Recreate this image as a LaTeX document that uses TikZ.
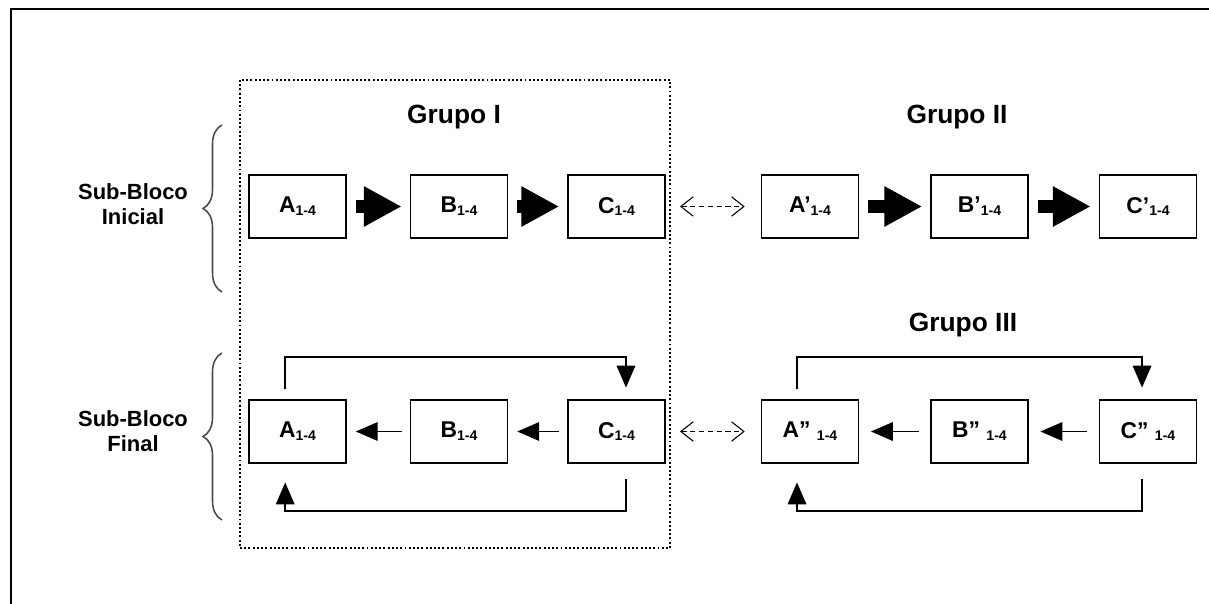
\documentclass[tikz,border=0pt]{standalone}
\usepackage{fontspec}
\setmainfont{Liberation Sans}
\usetikzlibrary{
    arrows.meta,
    decorations.pathreplacing % for the braces
}

\newcommand{\blab}[2]{#1{\fontsize{8}{8}\selectfont\raisebox{-1.6pt}{#2}}}

\begin{document}
\begin{tikzpicture} [
    x=0.02cm, y=-0.02cm,
    box/.style = {draw, line width=1.1pt, minimum width=1.94cm, minimum height=1.26cm,
        inner sep=0pt, font=\fontsize{13}{13}\selectfont\bfseries},
    bigarrow/.style = {line width=7.4pt, -{Triangle[length=21.5pt,width=21.5pt]},
        shorten <=5pt, shorten >=4.5pt},
    thinarrow/.style = {line width=1.1pt, -{Triangle[length=12.5pt,width=10.5pt]}},
    linkarrow/.style = {line width=0.6pt, dash pattern=on 3pt off 2pt,
        {Straight Barb[length=7pt,width=11pt]}-{Straight Barb[length=7pt,width=11pt]},
        shorten <=8pt, shorten >=9pt},
    grouplabel/.style = {font=\fontsize{15}{15}\selectfont\bfseries},
    sidelabel/.style = {align=center, font=\fontsize{12.5}{14}\selectfont\bfseries},
    curly/.style = {gray!60!black, line width=0.9pt,
        decorate, decoration={brace, amplitude=10.8pt}}
]
    \useasboundingbox (0,0) rectangle (1209,604);

    % frame
    \draw[line width=1.1pt] (11,604) -- (11,9) -- (1209,9);

    % group I
    \draw[line width=1.1pt, dash pattern=on 1.1pt off 1.3pt] (240,80) rectangle (670,548);

    \node[grouplabel] (g1) at (454,117) {Grupo I};
    \node[grouplabel] (g2) at (957,117) {Grupo II};
    \node[grouplabel] (g3) at (963,325) {Grupo III};

    \node[sidelabel] (si) at (133,204) {Sub-Bloco\\Inicial};
    \node[sidelabel] (sf) at (133,431) {Sub-Bloco\\Final};
    \draw[curly] (222,292) -- (222,125);
    \draw[curly] (222,520) -- (222,353);

    % sub-bloco inicial
    \node[box] (a)  at (297.5,206.5) {\blab{A}{1-4}};
    \node[box] (b)  at (459,206.5)   {\blab{B}{1-4}};
    \node[box] (c)  at (616.5,206.5) {\blab{C}{1-4}};
    \node[box] (ap) at (810,206.5)   {\blab{A’}{1-4}};
    \node[box] (bp) at (979.5,206.5) {\blab{B’}{1-4}};
    \node[box] (cp) at (1148,206.5)  {\blab{C’}{1-4}};

    \draw[bigarrow] (a) -- (b);
    \draw[bigarrow] (b) -- (c);
    \draw[bigarrow] (ap) -- (bp);
    \draw[bigarrow] (bp) -- (cp);
    \draw[linkarrow] (c) -- (ap);

    % sub-bloco final
    \node[box] (af)  at (297.5,431.5) {\blab{A}{1-4}};
    \node[box] (bf)  at (459,431.5)   {\blab{B}{1-4}};
    \node[box] (cf)  at (616.5,431.5) {\blab{C}{1-4}};
    \node[box] (app) at (810,431.5)   {\blab{A”~}{1-4}};
    \node[box] (bpp) at (979.5,431.5) {\blab{B”~}{1-4}};
    \node[box] (cpp) at (1148,431.5)  {\blab{C”~}{1-4}};

    \draw[thinarrow, shorten <=4.5pt, shorten >=5pt] (bf) -- (af);
    \draw[thinarrow, shorten <=4.5pt, shorten >=5pt] (cf) -- (bf);
    \draw[thinarrow, shorten <=6.5pt, shorten >=6.5pt] (bpp) -- (app);
    \draw[thinarrow, shorten <=6.5pt, shorten >=6.5pt] (cpp) -- (bpp);
    \draw[linkarrow] (cf) -- (app);

    \draw[thinarrow] ([xshift=-7pt,yshift=5.5pt]af.north) -- ++(0,-32)
        -| ([xshift=5.4pt,yshift=6.5pt]cf.north);
    \draw[thinarrow] ([xshift=5.4pt,yshift=-8.5pt]cf.south) -- ++(0,32)
        -| ([xshift=-7pt,yshift=-10.5pt]af.south);
    \draw[thinarrow] ([xshift=-7.4pt,yshift=5.5pt]app.north) -- ++(0,-32)
        -| ([xshift=-3.4pt,yshift=6.5pt]cpp.north);
    \draw[thinarrow] ([xshift=-3.4pt,yshift=-8.5pt]cpp.south) -- ++(0,32)
        -| ([xshift=-7.4pt,yshift=-10.5pt]app.south);
\end{tikzpicture}
\end{document}
